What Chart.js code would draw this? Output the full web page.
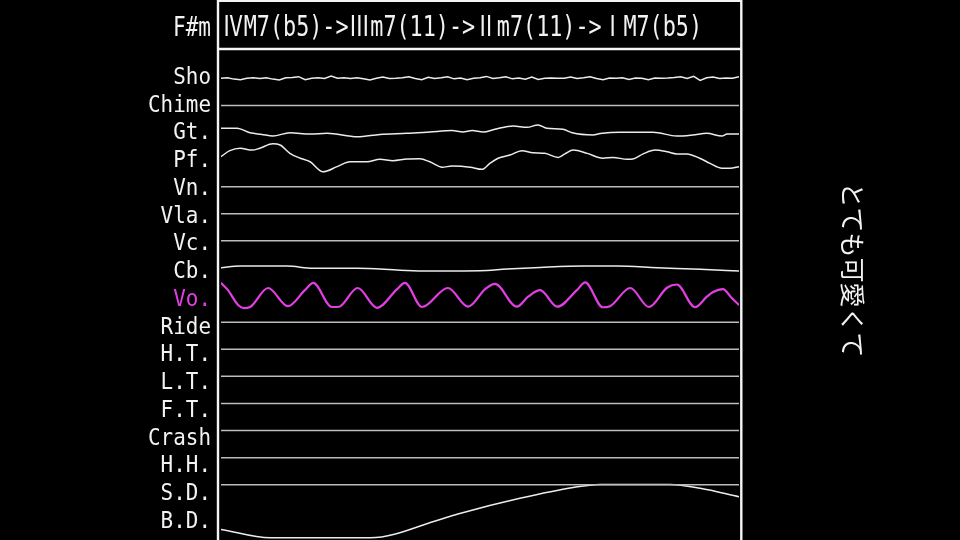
<!DOCTYPE html>
<html><head><meta charset="utf-8">
<script src="https://cdn.jsdelivr.net/npm/chart.js@4"></script>
<style>html,body{margin:0;padding:0;background:#000;overflow:hidden}canvas{display:block}</style>
</head><body>
<canvas id="c" width="960" height="540"></canvas>
<script>
// ---------- data ----------
const keyLabel = 'F#m';
const progression = 'ⅣM7(b5)->Ⅲm7(11)->Ⅱm7(11)->ⅠM7(b5)';
const sideText = 'とても可愛くて';
const rowLabels = ['Sho','Chime','Gt.','Pf.','Vn.','Vla.','Vc.','Cb.','Vo.','Ride','H.T.','L.T.','F.T.','Crash','H.H.','S.D.','B.D.'];
const highlightRow = 'Vo.';

// levels in hundredths of a row (positive = up), time 0..100 across the progression
const shoLevels = [0,2,-3,-5,0,2,-1,2,-3,-6, 2,3,6,-5,0,2,-1,8,0,2, -1,2,-2,-6,0,5,-1,0,2,6, -1,-5,4,-1,2,6,-2,1,-5,0, 2,7,-1,2,6,-2,1,-3,5,-4, 0,1,0,0,5,-1,2,6,-1,-5, 1,0,2,-4,1,0,-5,1,0,1, 3,6,-1,7,-8,2,5,-1,1,0, 6];

const gtTimes  = [0,3.1,5.6,7.9,10.0,13.3,17.2,20.5,26.3,30.7,35.9,40.3,44.6,46.7,48.5,50.6,52.9,56.4,59.1,61.2,62.9,66.0,67.8,71.8,73.2,77.0,83.4,88.0,91.1,93.8,96.7,97.7,100];
const gtLevels = [16,16,-1,-7,-13,-1,-6,-3,-16,-7,-3,2,7,2,7,2,12,24,19,28,16,12,-1,-9,-4,1,1,-13,-9,-3,-13,-6,-6];

const pfTimes  = [0,1.7,3.7,6.0,7.5,10.0,11.4,13.3,15.3,17.2,19.7,22.4,24.9,28.2,30.7,33.2,35.9,38.4,40.3,42.7,44.6,48.1,50.4,51.9,53.5,55.8,58.1,60.2,62.5,65.1,66.4,68.0,70.7,73.7,75.7,78.4,79.5,81.5,83.8,86.1,88.0,89.9,92.4,94.4,96.7,98.3,100];
const pfLevels = [11,33,42,35,42,58,54,23,5,-8,-45,-26,-8,-8,1,-4,2,3,-8,-28,-24,-28,-36,-14,5,17,33,25,23,8,21,35,23,5,8,1,2,21,35,29,21,21,5,-14,-32,-32,-26];

const cbTimes  = [0,3.7,12.7,17.8,26.3,34.6,39.8,50.0,55.2,61.6,69.9,76.4,84.2,92.5,100];
const cbLevels = [1,7,7,-1,-1,-8,-11,-10,-4,2,7,7,1,-5,-11];

const voTimes  = [0,1.35,3.3,4.4,5.6,9.1,12.9,16.2,17.8,21.4,22.6,26.4,30.1,34.0,35.5,38.8,43.8,47.7,51.0,52.9,57.1,59.3,61.6,64.9,68.7,70.3,73.7,75.1,79.0,82.6,86.1,88.0,91.5,93.8,95.0,96.9,98.6,100];
const voLevels = [45,18,-37,-48,-44,26,-41,18,45,-44,-44,26,-47,22,45,-44,26,-43,22,41,-43,-6,18,-43,18,47,-45,-41,26,-44,27,39,-45,-6,11,22,-11,-37];

const bdTimes  = [0,9.5,28.8,42.3,46.1,57.7,68.0,73.2,86.7,92.5,100];
const bdLevels = [-65,-96,-96,-28,-6,50,90,101,101,87,56];

const silentTimes  = [0,100];
const silentLevels = [0,0];

// ---------- build ----------
const shoTimes = shoLevels.map((_, k) => k * 100 / (shoLevels.length - 1));
const seriesByRow = {
  'Sho':  {t: shoTimes, v: shoLevels, tension: 0},
  'Gt.':  {t: gtTimes,  v: gtLevels,  tension: 0.3},
  'Pf.':  {t: pfTimes,  v: pfLevels,  tension: 0.4},
  'Cb.':  {t: cbTimes,  v: cbLevels,  tension: 0.4},
  'Vo.':  {t: voTimes,  v: voLevels,  tension: 0.4},
  'B.D.': {t: bdTimes,  v: bdLevels,  tension: 0.3}
};
const MAGENTA = '#e23ee2';
const datasets = rowLabels.map((name, i) => {
  const s = seriesByRow[name] || {t: silentTimes, v: silentLevels, tension: 0};
  const silent = !seriesByRow[name];
  return {
    label: name,
    data: s.t.map((t, k) => ({x: t, y: i - s.v[k] / 100})),
    borderColor: name === highlightRow ? MAGENTA : (silent ? '#bcbcbc' : '#ececec'),
    borderWidth: name === highlightRow ? 2.2 : (silent ? 1.5 : 1.5),
    pointRadius: 0,
    tension: s.tension,
    cubicInterpolationMode: name === 'Sho' ? 'default' : 'monotone',
    fill: false
  };
});

const ROMAN = /[\u2160-\u216F]/;
function drawProgression(ctx, text, x, baseline, width) {
  const mono = '29px "DejaVu Sans Mono"';
  const cjk = '29px "Noto Sans CJK JP"';
  const parts = [...text].map(ch => {
    ctx.font = ROMAN.test(ch) ? cjk : mono;
    return {ch, font: ctx.font, w: ctx.measureText(ch).width};
  });
  const total = parts.reduce((s, p) => s + p.w, 0);
  const f = width / total;
  ctx.save();
  ctx.translate(x, baseline);
  ctx.scale(f, 1);
  let cx = 0;
  parts.forEach(p => { ctx.font = p.font; ctx.fillText(p.ch, cx, 0); cx += p.w; });
  ctx.restore();
}

const decor = {
  id: 'decor',
  beforeDraw(chart) {
    const ctx = chart.ctx;
    ctx.save();
    ctx.fillStyle = '#000';
    ctx.fillRect(0, 0, chart.width, chart.height);
    ctx.restore();
  },
  afterDraw(chart) {
    const ctx = chart.ctx, a = chart.chartArea;
    const yl = chart.scales.yLabel;
    ctx.save();
    // frame
    const L = a.left - 3, R = a.right + 2.3;
    ctx.strokeStyle = '#f4f4f4';
    ctx.lineWidth = 2.4;
    ctx.beginPath();
    ctx.moveTo(L, 0); ctx.lineTo(L, chart.height);
    ctx.moveTo(R, 0); ctx.lineTo(R, chart.height);
    ctx.moveTo(L - 1.2, 0.8); ctx.lineTo(R + 1.2, 0.8);
    ctx.moveTo(L - 1.2, 49); ctx.lineTo(R + 1.2, 49);
    ctx.stroke();

    // header
    ctx.fillStyle = '#f2f2f2';
    ctx.textBaseline = 'alphabetic';
    ctx.font = '27px "DejaVu Sans Mono"';
    ctx.save();
    ctx.translate(L - 7, 36);
    ctx.scale(0.78, 1);
    ctx.textAlign = 'right';
    ctx.fillText(keyLabel, 0, 0);
    ctx.restore();
    ctx.textAlign = 'left';
    drawProgression(ctx, progression, L + 4, 36, 480);

    // row labels
    ctx.font = '23px "DejaVu Sans Mono"';
    ctx.textAlign = 'right';
    rowLabels.forEach((name, i) => {
      const y = yl.getPixelForValue(i);
      ctx.save();
      ctx.translate(a.left - 10, y + 8.4);
      ctx.scale(0.91, 1);
      ctx.fillStyle = name === highlightRow ? MAGENTA : '#f2f2f2';
      ctx.fillText(name, 0, 0);
      ctx.restore();
    });

    // vertical side text
    ctx.save();
    ctx.translate(852, 270);
    ctx.rotate(Math.PI / 2);
    ctx.font = '25px "Noto Sans CJK JP"';
    ctx.textAlign = 'center';
    ctx.textBaseline = 'middle';
    ctx.fillStyle = '#f2f2f2';
    ctx.fillText(sideText, 0, 0);
    ctx.restore();
    ctx.restore();
  }
};

new Chart(document.getElementById('c'), {
  type: 'line',
  data: {datasets},
  options: {
    responsive: false,
    animation: false,
    devicePixelRatio: 1,
    layout: {padding: {left: 221, right: 221, top: 0, bottom: 0}},
    plugins: {legend: {display: false}, tooltip: {enabled: false}},
    scales: {
      x: {type: 'linear', min: 0, max: 100, display: false},
      y: {type: 'linear', min: -2.89, max: 17.04, reverse: true, display: false},
      yLabel: {type: 'linear', axis: 'y', position: 'left', min: -2.721, max: 16.739, reverse: true, display: false,
        afterBuildTicks: s => { s.ticks = rowLabels.map((_, i) => ({value: i})); }}
    }
  },
  plugins: [decor]
});
</script>
</body></html>
